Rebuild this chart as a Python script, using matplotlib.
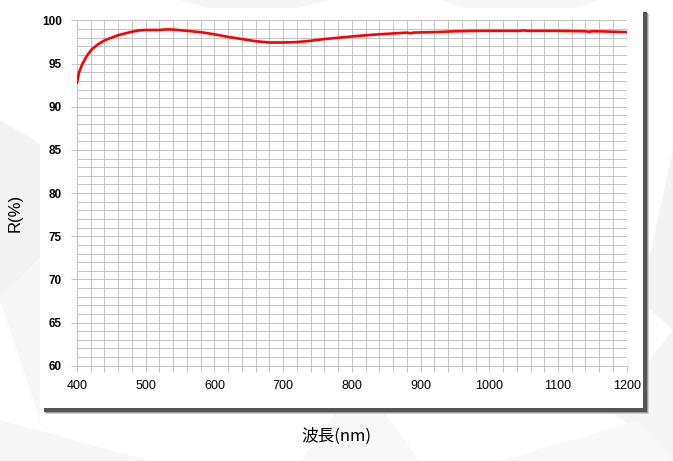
import matplotlib
matplotlib.use("Agg")
import matplotlib.pyplot as plt
from matplotlib.patches import Rectangle, Polygon
from matplotlib.ticker import MultipleLocator

# wavelength (nm) and reflectance (%)
wavelength = [400, 403, 408, 415, 422, 430, 440, 450, 460, 470, 480, 490,
              500, 520, 530, 540, 560, 580, 600, 620, 640, 660, 680, 700,
              720, 740, 760, 780, 800, 830, 860, 880, 885, 890, 900, 920,
              950, 980, 1000, 1045, 1050, 1055, 1100, 1140, 1145, 1150,
              1160, 1200]
reflectance = [92.8, 94.0, 95.0, 96.0, 96.7, 97.2, 97.7, 98.0, 98.3, 98.5,
               98.7, 98.85, 98.9, 98.9, 98.97, 98.95, 98.8, 98.65, 98.4,
               98.1, 97.85, 97.6, 97.45, 97.45, 97.5, 97.65, 97.85, 98.0,
               98.15, 98.35, 98.5, 98.6, 98.52, 98.6, 98.62, 98.65, 98.75,
               98.8, 98.8, 98.8, 98.86, 98.8, 98.8, 98.75, 98.7, 98.75,
               98.75, 98.65]

x_ticks = [400, 500, 600, 700, 800, 900, 1000, 1100, 1200]
y_ticks = [60, 65, 70, 75, 80, 85, 90, 95, 100]

W, H = 673, 461
fig = plt.figure(figsize=(W / 100, H / 100), dpi=100)
fig.patch.set_facecolor("white")

# faint triangle pattern in the background
bg = fig.add_axes([0, 0, 1, 1])
bg.set_xlim(0, W)
bg.set_ylim(H, 0)
bg.axis("off")
triangles = [
    ([(0, 120), (110, 185), (0, 300)], "#f3f3f3"),
    ([(0, 300), (60, 240), (40, 420)], "#f7f7f7"),
    ([(180, 0), (330, 0), (250, 20)], "#f5f5f5"),
    ([(440, 0), (600, 0), (520, 25)], "#f6f6f6"),
    ([(673, 150), (640, 300), (673, 330)], "#f3f3f3"),
    ([(673, 330), (610, 410), (673, 461)], "#f5f5f5"),
    ([(300, 461), (360, 380), (420, 461)], "#f8f8f8"),
    ([(0, 420), (150, 461), (0, 461)], "#f7f7f7"),
    ([(500, 461), (640, 420), (673, 461)], "#f8f8f8"),
]
for pts, col in triangles:
    bg.add_patch(Polygon(pts, closed=True, facecolor=col, edgecolor="none"))

# white panel with dark drop shadow
px0, py0, px1, py1 = 40, 8, 643, 408
for off, col in [(6, "#d0d0d0"), (5, "#9a9a9a"), (4, "#555555")]:
    bg.add_patch(Rectangle((px0 + off, py0 + off), px1 - px0, py1 - py0,
                           facecolor=col, edgecolor="none"))
bg.add_patch(Rectangle((px0, py0), px1 - px0, py1 - py0,
                       facecolor="white", edgecolor="none"))

ax = fig.add_axes([77 / W, 1 - 365.7 / H, (626.7 - 77) / W, (365.7 - 20.5) / H])
ax.set_facecolor("none")
ax.plot(wavelength, reflectance, color="#ff0000", linewidth=1.9, zorder=3)

ax.set_xlim(400, 1200)
ax.set_ylim(60, 100)
ax.set_xticks(x_ticks)
ax.set_yticks(y_ticks)
ax.xaxis.set_minor_locator(MultipleLocator(20))
ax.yaxis.set_minor_locator(MultipleLocator(1))
ax.grid(which="both", color="#c4c4c4", linewidth=0.7)
for side in ["top", "right"]:
    ax.spines[side].set_visible(False)
for side in ["left", "bottom"]:
    ax.spines[side].set_color("#c4c4c4")
    ax.spines[side].set_linewidth(0.7)

ax.tick_params(axis="x", which="both", direction="out", length=4, width=0.7,
               color="#c4c4c4", labelsize=9, pad=6)
ax.tick_params(axis="y", which="major", direction="out", length=4, width=0.7,
               color="#c4c4c4", labelsize=8.5, pad=7)
ax.tick_params(axis="y", which="minor", length=0)
for lab in ax.get_xticklabels():
    lab.set_family(["Liberation Sans"])
for lab in ax.get_yticklabels():
    lab.set_family(["Liberation Sans"])
    lab.set_fontweight("bold")

fig.text(15 / W, 1 - 213 / H, "R(%)", rotation=90, ha="center", va="center",
         fontsize=12, family=["Liberation Sans"])
fig.text(336 / W, 1 - 436 / H, "波長(nm)", ha="center", va="center",
         fontsize=12, family=["Noto Sans CJK JP", "DejaVu Sans"])

fig.savefig("out.png", dpi=100)
